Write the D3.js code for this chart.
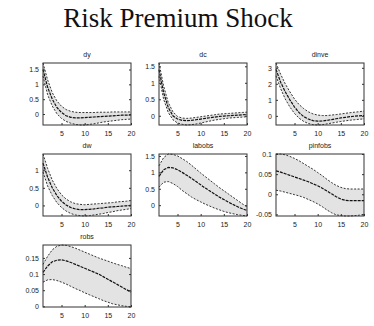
<!DOCTYPE html>
<html>
<head>
<meta charset="utf-8">
<script src="https://cdn.jsdelivr.net/npm/d3@7"></script>
<style>
  body { margin: 0; background: #fff; }
  svg { display: block; }
</style>
</head>
<body>
<div id="chart"></div>
<script>
// impulse responses, horizon 1..20 (lower band, mean, upper band)
const periods = [1, 2, 3, 4, 5, 6, 7, 8, 9, 10, 11, 12, 13, 14, 15, 16, 17, 18, 19, 20]
const xTicks = [5, 10, 15, 20]

const dyHigh = [1.72, 1.15, 0.72, 0.44, 0.26, 0.15, 0.09, 0.06, 0.05, 0.05, 0.05, 0.05, 0.06, 0.06, 0.06, 0.07, 0.07, 0.07, 0.07, 0.07]
const dyMean = [1.5, 0.9, 0.5, 0.22, 0.05, -0.06, -0.11, -0.13, -0.13, -0.12, -0.11, -0.1, -0.09, -0.08, -0.07, -0.06, -0.05, -0.04, -0.04, -0.03]
const dyLow = [1.28, 0.65, 0.27, 0.01, -0.15, -0.25, -0.31, -0.35, -0.37, -0.37, -0.35, -0.33, -0.3, -0.27, -0.25, -0.23, -0.21, -0.19, -0.18, -0.17]

const dcHigh = [1.6, 0.9, 0.4, 0.12, -0.02, -0.07, -0.08, -0.07, -0.05, -0.03, -0.01, 0.01, 0.03, 0.05, 0.06, 0.07, 0.08, 0.09, 0.1, 0.11]
const dcMean = [1.4, 0.7, 0.25, 0.0, -0.1, -0.14, -0.15, -0.14, -0.12, -0.1, -0.08, -0.06, -0.04, -0.02, -0.01, 0.0, 0.01, 0.02, 0.03, 0.04]
const dcLow = [1.2, 0.5, 0.1, -0.12, -0.22, -0.26, -0.28, -0.27, -0.25, -0.22, -0.19, -0.16, -0.13, -0.11, -0.09, -0.07, -0.06, -0.05, -0.04, -0.03]

const dinveHigh = [3.3, 2.6, 2.0, 1.5, 1.05, 0.7, 0.45, 0.25, 0.12, 0.05, 0.02, 0.02, 0.05, 0.08, 0.12, 0.16, 0.2, 0.23, 0.26, 0.3]
const dinveMean = [2.9, 2.1, 1.5, 1.0, 0.55, 0.2, -0.05, -0.2, -0.3, -0.33, -0.32, -0.28, -0.23, -0.18, -0.13, -0.09, -0.05, -0.02, 0.0, 0.02]
const dinveLow = [2.5, 1.7, 1.05, 0.55, 0.15, -0.15, -0.35, -0.48, -0.55, -0.57, -0.55, -0.5, -0.45, -0.4, -0.35, -0.31, -0.27, -0.24, -0.21, -0.19]

const dwHigh = [1.46, 1.05, 0.72, 0.48, 0.3, 0.18, 0.1, 0.05, 0.03, 0.02, 0.03, 0.04, 0.05, 0.06, 0.07, 0.08, 0.1, 0.11, 0.12, 0.14]
const dwMean = [1.2, 0.8, 0.5, 0.28, 0.12, 0.01, -0.06, -0.1, -0.12, -0.12, -0.11, -0.1, -0.08, -0.07, -0.05, -0.04, -0.03, -0.02, -0.01, 0.0]
const dwLow = [0.95, 0.55, 0.28, 0.08, -0.06, -0.16, -0.23, -0.27, -0.29, -0.3, -0.29, -0.27, -0.25, -0.23, -0.2, -0.18, -0.15, -0.13, -0.11, -0.09]

const labobsHigh = [1.2, 1.45, 1.56, 1.55, 1.5, 1.42, 1.33, 1.22, 1.1, 0.98, 0.87, 0.76, 0.65, 0.54, 0.44, 0.34, 0.24, 0.14, 0.04, -0.05]
const labobsMean = [0.88, 1.08, 1.15, 1.14, 1.08, 1.0, 0.91, 0.82, 0.72, 0.62, 0.52, 0.43, 0.34, 0.25, 0.17, 0.09, 0.02, -0.05, -0.11, -0.16]
const labobsLow = [0.55, 0.7, 0.72, 0.66, 0.57, 0.45, 0.35, 0.25, 0.17, 0.1, 0.03, -0.03, -0.09, -0.14, -0.19, -0.23, -0.26, -0.29, -0.31, -0.33]

const pinfobsHigh = [0.1, 0.1, 0.098, 0.094, 0.089, 0.083, 0.076, 0.069, 0.062, 0.054, 0.046, 0.037, 0.029, 0.022, 0.017, 0.014, 0.013, 0.013, 0.013, 0.013]
const pinfobsMean = [0.058, 0.055, 0.051, 0.047, 0.043, 0.039, 0.035, 0.031, 0.026, 0.021, 0.015, 0.008, 0.001, -0.006, -0.012, -0.015, -0.016, -0.016, -0.016, -0.016]
const pinfobsLow = [0.01, 0.008, 0.005, 0.002, -0.001, -0.004, -0.008, -0.013, -0.018, -0.024, -0.031, -0.039, -0.046, -0.051, -0.053, -0.054, -0.054, -0.053, -0.052, -0.05]

const robsHigh = [0.13, 0.155, 0.175, 0.186, 0.19, 0.189, 0.185, 0.18, 0.174, 0.168, 0.162, 0.156, 0.15, 0.145, 0.14, 0.135, 0.13, 0.126, 0.121, 0.117]
const robsMean = [0.105, 0.125, 0.138, 0.143, 0.144, 0.141, 0.136, 0.13, 0.124, 0.118, 0.112, 0.106, 0.1, 0.092, 0.084, 0.076, 0.068, 0.06, 0.052, 0.044]
const robsLow = [0.075, 0.082, 0.083, 0.08, 0.075, 0.069, 0.062, 0.055, 0.049, 0.042, 0.036, 0.03, 0.024, 0.018, 0.013, 0.008, 0.005, 0.002, 0.0, -0.002]

const titles = ['dy', 'dc', 'dinve', 'dw', 'labobs', 'pinfobs', 'robs']
const yTicks = [
    [0, 0.5, 1, 1.5],
    [0, 0.5, 1, 1.5],
    [0, 1, 2, 3],
    [0, 0.5, 1],
    [0, 0.5, 1, 1.5],
    [-0.05, 0, 0.05, 0.1],
    [0, 0.05, 0.1, 0.15]
]
const series = [
    [dyLow, dyMean, dyHigh],
    [dcLow, dcMean, dcHigh],
    [dinveLow, dinveMean, dinveHigh],
    [dwLow, dwMean, dwHigh],
    [labobsLow, labobsMean, labobsHigh],
    [pinfobsLow, pinfobsMean, pinfobsHigh],
    [robsLow, robsMean, robsHigh]
]

const width = 374, height = 326
const colLeft = [43, 159, 276]
const rowTop = [63, 154, 245]
const pw = 88, ph = 62

const svg = d3.select('#chart').append('svg')
    .attr('width', width)
    .attr('height', height)

svg.append('rect').attr('width', width).attr('height', height).attr('fill', '#fff')

svg.append('text')
    .attr('x', 178)
    .attr('y', 27)
    .attr('text-anchor', 'middle')
    .attr('font-family', 'Liberation Serif, Times New Roman, serif')
    .attr('font-size', 27)
    .attr('fill', '#111')
    .text('Risk Premium Shock')

titles.forEach((name, i) => {
    const [lo, mid, hi] = series[i]
    const g = svg.append('g')
        .attr('transform', `translate(${colLeft[i % 3]},${rowTop[Math.floor(i / 3)]})`)

    const x = d3.scaleLinear().domain([1, 20]).range([0, pw])
    const y = d3.scaleLinear().domain(d3.extent([...lo, ...hi])).range([ph, 0])

    const rows = periods.map((p, k) => ({ p, lo: lo[k], mid: mid[k], hi: hi[k] }))

    g.append('path')
        .datum(rows)
        .attr('fill', '#e3e3e3')
        .attr('d', d3.area().x(d => x(d.p)).y0(d => y(d.lo)).y1(d => y(d.hi)))

    const line = key => d3.line().x(d => x(d.p)).y(d => y(d[key]))
    ;['lo', 'hi'].forEach(key => {
        g.append('path')
            .datum(rows)
            .attr('fill', 'none')
            .attr('stroke', '#333')
            .attr('stroke-width', 1)
            .attr('stroke-dasharray', '2,1.5')
            .attr('d', line(key))
    })
    g.append('path')
        .datum(rows)
        .attr('fill', 'none')
        .attr('stroke', '#111')
        .attr('stroke-width', 1.2)
        .attr('stroke-dasharray', '3,1')
        .attr('d', line('mid'))

    // frame + inward ticks
    g.append('rect')
        .attr('width', pw).attr('height', ph)
        .attr('fill', 'none')
        .attr('stroke', '#333')
        .attr('stroke-width', 1)

    const fontAttrs = sel => sel
        .attr('font-family', 'Liberation Sans, Arial, sans-serif')
        .attr('font-size', 7)
        .attr('fill', '#222')

    const xAxis = g.append('g').attr('transform', `translate(0,${ph})`)
        .call(d3.axisBottom(x).tickValues(xTicks).tickSizeInner(-2).tickSizeOuter(0).tickPadding(6))
    xAxis.select('.domain').remove()
    xAxis.selectAll('line').attr('stroke', '#333')
    xAxis.selectAll('text').call(fontAttrs)

    const yAxis = g.append('g')
        .call(d3.axisLeft(y).tickValues(yTicks[i]).tickSizeInner(-2).tickSizeOuter(0).tickPadding(4).tickFormat(d => String(d)))
    yAxis.select('.domain').remove()
    yAxis.selectAll('line').attr('stroke', '#333')
    yAxis.selectAll('text').call(fontAttrs)

    g.append('g').attr('transform', `translate(${pw},0)`)
        .call(d3.axisRight(y).tickValues(yTicks[i]).tickSizeInner(-2).tickSizeOuter(0).tickFormat(''))
        .call(a => a.select('.domain').remove())
        .selectAll('line').attr('stroke', '#333')

    g.append('text')
        .attr('x', pw / 2)
        .attr('y', -6)
        .attr('text-anchor', 'middle')
        .call(fontAttrs)
        .attr('font-size', 7)
        .text(name)
})
</script>
</body>
</html>
